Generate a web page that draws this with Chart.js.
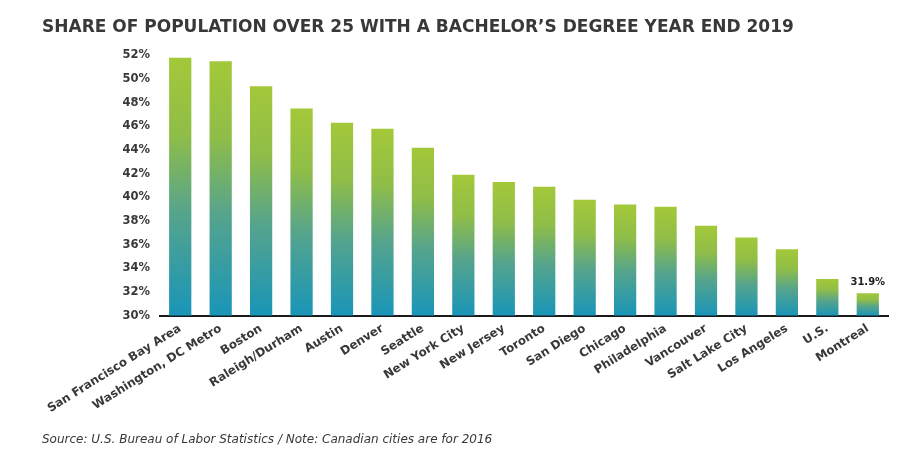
<!DOCTYPE html>
<html>
<head>
<meta charset="utf-8">
<script src="https://cdn.jsdelivr.net/npm/chart.js@4/dist/chart.umd.min.js"></script>
<style>
  html, body { margin: 0; padding: 0; background: #fff; }
  #wrap { width: 910px; height: 452px; }
</style>
</head>
<body>
<div id="wrap"><canvas id="chart" width="910" height="452"></canvas></div>
<script>
// data
const cities = ['San Francisco Bay Area', 'Washington, DC Metro', 'Boston', 'Raleigh/Durham',
  'Austin', 'Denver', 'Seattle', 'New York City', 'New Jersey', 'Toronto', 'San Diego',
  'Chicago', 'Philadelphia', 'Vancouver', 'Salt Lake City', 'Los Angeles', 'U.S.', 'Montreal'];
const bachelorShare = [51.8, 51.5, 49.4, 47.5, 46.3, 45.8, 44.2, 41.9, 41.3, 40.9, 39.8,
  39.4, 39.2, 37.6, 36.6, 35.6, 33.1, 31.9];
const labelledCity = 'Montreal';
const yMin = 30, yMax = 52, yStep = 2;

const titleText = 'SHARE OF POPULATION OVER 25 WITH A BACHELOR\u2019S DEGREE YEAR END 2019';
const footText = 'Source: U.S. Bureau of Labor Statistics / Note: Canadian cities are for 2016';

const textColor = '#383838';
Chart.defaults.font.family = "'DejaVu Sans', sans-serif";
Chart.defaults.color = textColor;

// green at the top of each bar fading to teal at its base
function barGradient(context) {
  const chart = context.chart;
  if (!chart.chartArea) return '#8fbf45';
  const y = chart.scales.y;
  const top = y.getPixelForValue(context.raw);
  const bottom = y.getPixelForValue(yMin);
  const g = chart.ctx.createLinearGradient(0, top, 0, bottom);
  g.addColorStop(0, '#a3c839');
  g.addColorStop(0.3, '#8fbd48');
  g.addColorStop(0.6, '#56a48c');
  g.addColorStop(1, '#1995b8');
  return g;
}

// value label over a single bar
const valueLabel = {
  id: 'valueLabel',
  afterDatasetsDraw(chart) {
    const i = cities.indexOf(labelledCity);
    const bar = chart.getDatasetMeta(0).data[i];
    if (!bar) return;
    const ctx = chart.ctx;
    ctx.save();
    ctx.font = "bold 10px 'DejaVu Sans', sans-serif";
    ctx.fillStyle = '#222';
    ctx.textAlign = 'center';
    ctx.textBaseline = 'bottom';
    ctx.fillText(bachelorShare[i].toFixed(1) + '%', bar.x, bar.y - 6);
    ctx.restore();
  }
};

const whiteBg = {
  id: 'whiteBg',
  beforeDraw(chart) {
    const ctx = chart.ctx;
    ctx.save();
    ctx.fillStyle = '#fff';
    ctx.fillRect(0, 0, chart.width, chart.height);
    ctx.restore();
  }
};

new Chart(document.getElementById('chart'), {
  type: 'bar',
  data: {
    labels: cities,
    datasets: [{
      data: bachelorShare,
      backgroundColor: barGradient,
      borderWidth: 0,
      categoryPercentage: 1,
      barPercentage: 0.55
    }]
  },
  options: {
    responsive: false,
    animation: false,
    layout: { padding: { left: 42, right: 22, top: 0, bottom: 0 } },
    plugins: {
      legend: { display: false },
      tooltip: { enabled: false },
      title: {
        display: true,
        text: titleText,
        align: 'start',
        color: textColor,
        font: { size: 17, weight: 'bold' },
        padding: { top: 17, bottom: 18 }
      },
      subtitle: {
        display: true,
        text: footText,
        position: 'bottom',
        align: 'start',
        color: textColor,
        font: { size: 12, style: 'italic' },
        padding: { top: 0, bottom: 5 }
      }
    },
    scales: {
      x: {
        grid: { display: false, drawTicks: false },
        border: { color: '#1a1a1a', width: 2 },
        ticks: {
          minRotation: 32,
          maxRotation: 32,
          autoSkip: false,
          padding: 6,
          color: textColor,
          font: { size: 11.8, weight: 'bold' }
        },
        afterFit(scale) { scale.height = 117; }
      },
      y: {
        min: yMin,
        max: yMax,
        grid: { display: false, drawTicks: false },
        border: { display: false },
        ticks: {
          stepSize: yStep,
          padding: 10,
          color: textColor,
          font: { size: 11.5, weight: 'bold' },
          callback: v => v + '%'
        },
        afterFit(scale) { scale.width = 118; }
      }
    }
  },
  plugins: [whiteBg, valueLabel]
});
</script>
</body>
</html>
